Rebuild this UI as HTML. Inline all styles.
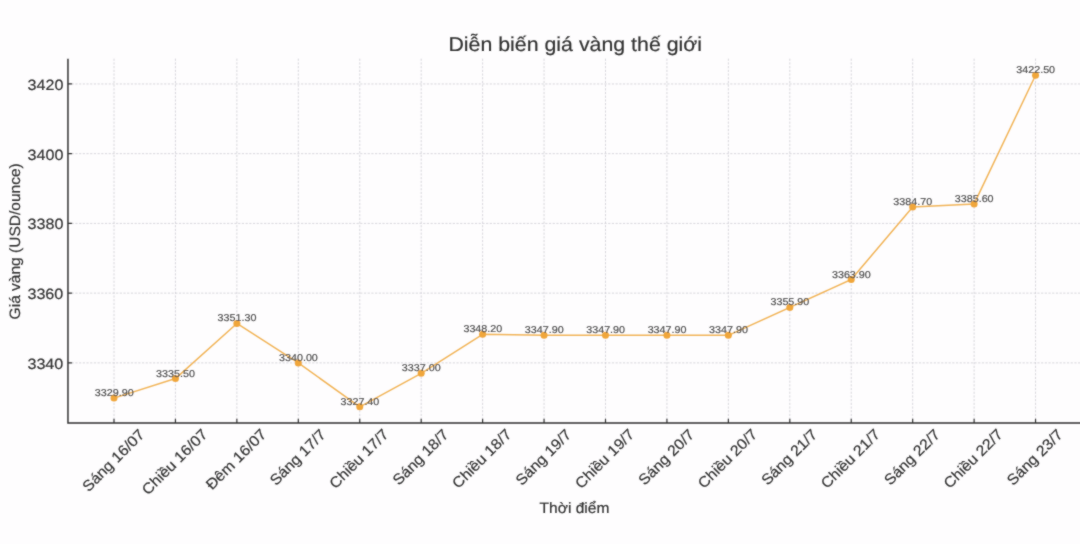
<!DOCTYPE html><html><head><meta charset="utf-8"><style>html,body{margin:0;padding:0;background:#fefdfe;}svg{display:block;}text{font-family:"Liberation Sans",sans-serif;text-rendering:geometricPrecision;}</style></head><body>
<svg width="1080" height="544" viewBox="0 0 1080 544">
<defs><filter id="bl" x="-5%" y="-5%" width="110%" height="110%"><feConvolveMatrix order="3" kernelMatrix="1 2 1 2 16 2 1 2 1" preserveAlpha="false"/></filter></defs><rect width="1080" height="544" fill="#fefdfe"/><g filter="url(#bl)">
<path d="M114.00 58.64V423.10M175.44 58.64V423.10M236.87 58.64V423.10M298.31 58.64V423.10M359.75 58.64V423.10M421.19 58.64V423.10M482.62 58.64V423.10M544.06 58.64V423.10M605.50 58.64V423.10M666.93 58.64V423.10M728.37 58.64V423.10M789.81 58.64V423.10M851.24 58.64V423.10M912.68 58.64V423.10M974.12 58.64V423.10M1035.55 58.64V423.10M67.95 362.88H1082M67.95 293.14H1082M67.95 223.41H1082M67.95 153.67H1082M67.95 83.94H1082" stroke="#d2d1d8" stroke-width="0.9" stroke-dasharray="2.2 1.5" fill="none"/>
<path d="M67.95 58.64V423.1H1082" stroke="#333333" stroke-width="1.5" fill="none"/>
<path d="M114.00 423.1v-4.4M175.44 423.1v-4.4M236.87 423.1v-4.4M298.31 423.1v-4.4M359.75 423.1v-4.4M421.19 423.1v-4.4M482.62 423.1v-4.4M544.06 423.1v-4.4M605.50 423.1v-4.4M666.93 423.1v-4.4M728.37 423.1v-4.4M789.81 423.1v-4.4M851.24 423.1v-4.4M912.68 423.1v-4.4M974.12 423.1v-4.4M1035.55 423.1v-4.4M67.95 362.88h4.2M67.95 293.14h4.2M67.95 223.41h4.2M67.95 153.67h4.2M67.95 83.94h4.2" stroke="#333333" stroke-width="1.2" fill="none"/>
<text transform="translate(27.41 368.79)" font-size="14.94" fill="#333333" textLength="35.88" lengthAdjust="spacingAndGlyphs" stroke="#333333" stroke-width="0.2">3340</text>
<text transform="translate(27.41 299.05)" font-size="14.94" fill="#333333" textLength="35.88" lengthAdjust="spacingAndGlyphs" stroke="#333333" stroke-width="0.2">3360</text>
<text transform="translate(27.54 229.31)" font-size="14.94" fill="#333333" textLength="35.88" lengthAdjust="spacingAndGlyphs" stroke="#333333" stroke-width="0.2">3380</text>
<text transform="translate(27.54 159.57)" font-size="14.94" fill="#333333" textLength="35.88" lengthAdjust="spacingAndGlyphs" stroke="#333333" stroke-width="0.2">3400</text>
<text transform="translate(27.54 89.84)" font-size="14.94" fill="#333333" textLength="35.88" lengthAdjust="spacingAndGlyphs" stroke="#333333" stroke-width="0.2">3420</text>
<polyline points="114.00,398.10 175.44,378.57 236.87,323.48 298.31,362.88 359.75,406.81 421.19,373.34 482.62,334.29 544.06,335.33 605.50,335.33 666.93,335.33 728.37,335.33 789.81,307.44 851.24,279.55 912.68,207.02 974.12,203.88 1035.55,75.22" stroke="#f1b458" stroke-width="1.5" fill="none" stroke-linejoin="round"/>
<circle cx="114.00" cy="398.10" r="3.5" fill="#f0a63a"/>
<circle cx="175.44" cy="378.57" r="3.5" fill="#f0a63a"/>
<circle cx="236.87" cy="323.48" r="3.5" fill="#f0a63a"/>
<circle cx="298.31" cy="362.88" r="3.5" fill="#f0a63a"/>
<circle cx="359.75" cy="406.81" r="3.5" fill="#f0a63a"/>
<circle cx="421.19" cy="373.34" r="3.5" fill="#f0a63a"/>
<circle cx="482.62" cy="334.29" r="3.5" fill="#f0a63a"/>
<circle cx="544.06" cy="335.33" r="3.5" fill="#f0a63a"/>
<circle cx="605.50" cy="335.33" r="3.5" fill="#f0a63a"/>
<circle cx="666.93" cy="335.33" r="3.5" fill="#f0a63a"/>
<circle cx="728.37" cy="335.33" r="3.5" fill="#f0a63a"/>
<circle cx="789.81" cy="307.44" r="3.5" fill="#f0a63a"/>
<circle cx="851.24" cy="279.55" r="3.5" fill="#f0a63a"/>
<circle cx="912.68" cy="207.02" r="3.5" fill="#f0a63a"/>
<circle cx="974.12" cy="203.88" r="3.5" fill="#f0a63a"/>
<circle cx="1035.55" cy="75.22" r="3.5" fill="#f0a63a"/>
<text transform="translate(94.81 396.10)" font-size="9.96" fill="#505050" textLength="38.87" lengthAdjust="spacingAndGlyphs" stroke="#505050" stroke-width="0.2">3329.90</text>
<text transform="translate(156.11 376.58)" font-size="9.96" fill="#505050" textLength="38.87" lengthAdjust="spacingAndGlyphs" stroke="#505050" stroke-width="0.2">3335.50</text>
<text transform="translate(217.61 321.48)" font-size="9.96" fill="#505050" textLength="38.87" lengthAdjust="spacingAndGlyphs" stroke="#505050" stroke-width="0.2">3351.30</text>
<text transform="translate(278.98 360.89)" font-size="9.96" fill="#505050" textLength="38.87" lengthAdjust="spacingAndGlyphs" stroke="#505050" stroke-width="0.2">3340.00</text>
<text transform="translate(340.47 404.82)" font-size="9.96" fill="#505050" textLength="38.87" lengthAdjust="spacingAndGlyphs" stroke="#505050" stroke-width="0.2">3327.40</text>
<text transform="translate(401.84 371.35)" font-size="9.96" fill="#505050" textLength="38.87" lengthAdjust="spacingAndGlyphs" stroke="#505050" stroke-width="0.2">3337.00</text>
<text transform="translate(463.40 332.29)" font-size="9.96" fill="#505050" textLength="38.87" lengthAdjust="spacingAndGlyphs" stroke="#505050" stroke-width="0.2">3348.20</text>
<text transform="translate(524.77 333.34)" font-size="9.96" fill="#505050" textLength="38.87" lengthAdjust="spacingAndGlyphs" stroke="#505050" stroke-width="0.2">3347.90</text>
<text transform="translate(586.20 333.34)" font-size="9.96" fill="#505050" textLength="38.87" lengthAdjust="spacingAndGlyphs" stroke="#505050" stroke-width="0.2">3347.90</text>
<text transform="translate(647.63 333.34)" font-size="9.96" fill="#505050" textLength="38.87" lengthAdjust="spacingAndGlyphs" stroke="#505050" stroke-width="0.2">3347.90</text>
<text transform="translate(709.07 333.34)" font-size="9.96" fill="#505050" textLength="38.87" lengthAdjust="spacingAndGlyphs" stroke="#505050" stroke-width="0.2">3347.90</text>
<text transform="translate(770.43 305.44)" font-size="9.96" fill="#505050" textLength="38.87" lengthAdjust="spacingAndGlyphs" stroke="#505050" stroke-width="0.2">3355.90</text>
<text transform="translate(831.93 277.55)" font-size="9.96" fill="#505050" textLength="38.87" lengthAdjust="spacingAndGlyphs" stroke="#505050" stroke-width="0.2">3363.90</text>
<text transform="translate(893.36 205.02)" font-size="9.96" fill="#505050" textLength="38.87" lengthAdjust="spacingAndGlyphs" stroke="#505050" stroke-width="0.2">3384.70</text>
<text transform="translate(954.73 201.88)" font-size="9.96" fill="#505050" textLength="38.87" lengthAdjust="spacingAndGlyphs" stroke="#505050" stroke-width="0.2">3385.60</text>
<text transform="translate(1016.23 73.22)" font-size="9.96" fill="#505050" textLength="38.87" lengthAdjust="spacingAndGlyphs" stroke="#505050" stroke-width="0.2">3422.50</text>
<text transform="translate(448.42 51.48)" font-size="19.93" fill="#333333" textLength="253.61" lengthAdjust="spacingAndGlyphs" stroke="#333333" stroke-width="0.2">Diễn biến giá vàng thế giới</text>
<text transform="translate(539.55 513.42)" font-size="14.94" fill="#333333" textLength="69.84" lengthAdjust="spacingAndGlyphs" stroke="#333333" stroke-width="0.2">Thời điểm</text>
<text transform="translate(19.97 319.39) rotate(-90)" font-size="14.94" fill="#333333" textLength="156.10" lengthAdjust="spacingAndGlyphs" stroke="#333333" stroke-width="0.2">Giá vàng (USD/ounce)</text>
<text transform="translate(88.49 492.48) rotate(-45)" font-size="14.94" fill="#333333" textLength="80.58" lengthAdjust="spacingAndGlyphs" stroke="#333333" stroke-width="0.2">Sáng 16/07</text>
<text transform="translate(147.98 495.66) rotate(-45)" font-size="14.94" fill="#333333" textLength="85.41" lengthAdjust="spacingAndGlyphs" stroke="#333333" stroke-width="0.2">Chiều 16/07</text>
<text transform="translate(211.93 490.62) rotate(-45)" font-size="14.94" fill="#333333" textLength="78.44" lengthAdjust="spacingAndGlyphs" stroke="#333333" stroke-width="0.2">Đêm 16/07</text>
<text transform="translate(275.93 486.20) rotate(-45)" font-size="14.94" fill="#333333" textLength="71.61" lengthAdjust="spacingAndGlyphs" stroke="#333333" stroke-width="0.2">Sáng 17/7</text>
<text transform="translate(335.42 489.38) rotate(-45)" font-size="14.94" fill="#333333" textLength="76.44" lengthAdjust="spacingAndGlyphs" stroke="#333333" stroke-width="0.2">Chiều 17/7</text>
<text transform="translate(398.84 486.11) rotate(-45)" font-size="14.94" fill="#333333" textLength="71.61" lengthAdjust="spacingAndGlyphs" stroke="#333333" stroke-width="0.2">Sáng 18/7</text>
<text transform="translate(458.32 489.29) rotate(-45)" font-size="14.94" fill="#333333" textLength="76.44" lengthAdjust="spacingAndGlyphs" stroke="#333333" stroke-width="0.2">Chiều 18/7</text>
<text transform="translate(521.66 486.20) rotate(-45)" font-size="14.94" fill="#333333" textLength="71.61" lengthAdjust="spacingAndGlyphs" stroke="#333333" stroke-width="0.2">Sáng 19/7</text>
<text transform="translate(581.14 489.38) rotate(-45)" font-size="14.94" fill="#333333" textLength="76.44" lengthAdjust="spacingAndGlyphs" stroke="#333333" stroke-width="0.2">Chiều 19/7</text>
<text transform="translate(644.57 486.11) rotate(-45)" font-size="14.94" fill="#333333" textLength="71.61" lengthAdjust="spacingAndGlyphs" stroke="#333333" stroke-width="0.2">Sáng 20/7</text>
<text transform="translate(704.05 489.29) rotate(-45)" font-size="14.94" fill="#333333" textLength="76.44" lengthAdjust="spacingAndGlyphs" stroke="#333333" stroke-width="0.2">Chiều 20/7</text>
<text transform="translate(767.43 486.11) rotate(-45)" font-size="14.94" fill="#333333" textLength="71.61" lengthAdjust="spacingAndGlyphs" stroke="#333333" stroke-width="0.2">Sáng 21/7</text>
<text transform="translate(826.92 489.29) rotate(-45)" font-size="14.94" fill="#333333" textLength="76.44" lengthAdjust="spacingAndGlyphs" stroke="#333333" stroke-width="0.2">Chiều 21/7</text>
<text transform="translate(890.29 486.11) rotate(-45)" font-size="14.94" fill="#333333" textLength="71.61" lengthAdjust="spacingAndGlyphs" stroke="#333333" stroke-width="0.2">Sáng 22/7</text>
<text transform="translate(949.78 489.29) rotate(-45)" font-size="14.94" fill="#333333" textLength="76.44" lengthAdjust="spacingAndGlyphs" stroke="#333333" stroke-width="0.2">Chiều 22/7</text>
<text transform="translate(1013.11 486.20) rotate(-45)" font-size="14.94" fill="#333333" textLength="71.61" lengthAdjust="spacingAndGlyphs" stroke="#333333" stroke-width="0.2">Sáng 23/7</text>
</g></svg></body></html>
